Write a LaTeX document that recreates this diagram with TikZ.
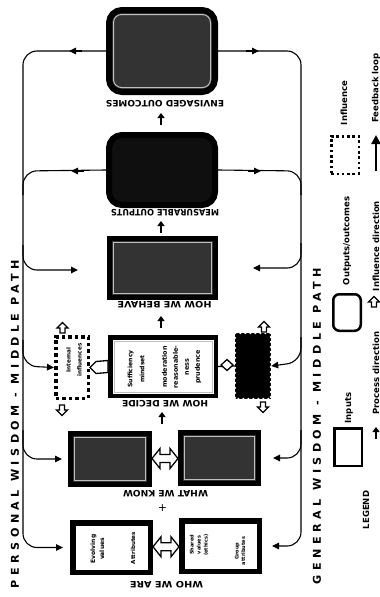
\documentclass[tikz,border=0pt]{standalone}
\usepackage{fontspec}
\setmainfont{DejaVu Sans}
\newfontfamily\spacedfont[LetterSpace=40]{DejaVu Sans}
\usepackage{graphicx}
\usetikzlibrary{arrows.meta,calc}
\tikzset{
  capl/.style={rotate=180, inner sep=0pt, font=\bfseries},
  btext/.style={rotate=90, inner sep=0pt, align=center},
  legtext/.style={rotate=90, inner sep=0pt, font=\bfseries\fontsize{8.5}{10}\selectfont},
  darkbox/.style={draw=black, line width=5pt, fill=black!80, inner sep=0pt},
  whitebox/.style={draw=black, line width=5pt, fill=white, inner sep=0pt},
  frameline/.style={gray!50, line width=1pt},
  loopline/.style={line width=1.1pt, rounded corners=14pt},
  endarrow/.style={-{Triangle[length=7pt,width=6.5pt]}},
  midarrow/.style={line width=1.1pt, -{Triangle[length=7pt,width=6.5pt]}},
  procarrow/.style={line width=2pt, -{Triangle[length=5pt,width=7pt]}},
  openarrow/.style={draw=black, fill=white, line width=1.3pt, line join=miter},
  openup/.pic={\path[openarrow] (-2.5,5) -- (-2.5,0) -- (-5.5,0) -- (0,-5.5) -- (5.5,0) -- (2.5,0) -- (2.5,5) -- cycle;},
  dblarrow/.pic={\path[openarrow] (-13,0) -- (-5,-10) -- (-5,-4) -- (5,-4) -- (5,-10) -- (13,0) -- (5,10) -- (5,4) -- (-5,4) -- (-5,10) -- cycle;},
}
\begin{document}
\begin{tikzpicture}[x=1pt,y=-1pt]
\fill[white] (0,0) rectangle (380,597);
\useasboundingbox (0,0) rectangle (380,597);

% ---- main boxes ----
\node[draw=black, line width=6pt, rounded corners=13pt, fill=black!80, minimum width=106pt, minimum height=82pt] (env) at (162,51) {};
\draw[frameline, rounded corners=8pt] ($(env.north west)+(7.5,7.5)$) rectangle ($(env.south east)+(-7.5,-7.5)$);
\node[draw=black, line width=6pt, rounded corners=13pt, fill=black!94, minimum width=106pt, minimum height=70pt] (meas) at (162,170) {};
\node[darkbox, minimum width=106pt, minimum height=59pt] (beh) at (162.5,268) {};
\draw[frameline] ($(beh.north west)+(6.5,6.5)$) rectangle ($(beh.south east)+(-6.5,-6.5)$);
\node[whitebox, line width=4.5pt, minimum width=105.5pt, minimum height=58.5pt] (dec) at (163,366.5) {};
\draw[gray!50, line width=0.6pt] ($(dec.north west)+(6,6)$) rectangle ($(dec.south east)+(-6,-6)$);
\node[darkbox, minimum width=79pt, minimum height=51pt] (knowL) at (110,459) {};
\draw[frameline] ($(knowL.north west)+(6.5,6.5)$) rectangle ($(knowL.south east)+(-6.5,-6.5)$);
\node[darkbox, minimum width=78pt, minimum height=51pt] (knowR) at (219.5,458) {};
\draw[frameline] ($(knowR.north west)+(6.5,6.5)$) rectangle ($(knowR.south east)+(-6.5,-6.5)$);
\node[whitebox, line width=5.5pt, minimum width=77.5pt, minimum height=49.5pt] (areL) at (111.5,547.5) {};
\node[whitebox, line width=5.5pt, minimum width=77.5pt, minimum height=50.5pt] (areR) at (220.5,546) {};

% influence boxes
\node[draw=black, fill=white, line width=3.5pt, dash pattern=on 3.5pt off 3pt, minimum width=32.5pt, minimum height=61.5pt, inner sep=0pt] (intinf) at (72,367.5) {};
\node[fill=black, minimum width=36pt, minimum height=66pt, inner sep=0pt] (extinf) at (253,366) {};
\draw[white, line width=3pt, line cap=round, dash pattern=on 0pt off 5pt] (extinf.north west) rectangle (extinf.south east);

% ---- texts in boxes ----
\node[btext, font=\bfseries\fontsize{6.1}{12}\selectfont] (d1) at (136,369) {Sufficiency\\mindset};
\node[btext, font=\bfseries\fontsize{6.4}{11}\selectfont] (d2) at (181.5,367) {moderation\\reasonable-\\ness\\prudence};
\node[btext, font=\bfseries\fontsize{6}{9}\selectfont] (a1) at (97.5,549) {Evolving\\values};
\node[btext, font=\bfseries\fontsize{5.6}{9}\selectfont] (a2) at (133,548) {Attributes};
\node[btext, font=\bfseries\fontsize{5}{7}\selectfont] (a3) at (199,545) {Shared\\values\\(ethics)};
\node[btext, font=\bfseries\fontsize{5}{6.5}\selectfont] (a4) at (240,551) {Group\\attributes};
\node[btext, font=\bfseries\fontsize{5.7}{11}\selectfont] (i1) at (74,360) {Internal\\influences};

% ---- labels ----
\node[capl] (lEnv) at (165,104) {\resizebox{118pt}{6.5pt}{ENVISAGED OUTCOMES}};
\node[capl] (lMeas) at (165,213) {\resizebox{108pt}{6.5pt}{MEASURABLE OUTPUTS}};
\node[capl] (lBeh) at (164.5,305) {\resizebox{94pt}{6.5pt}{HOW WE BEHAVE}};
\node[capl] (lDec) at (165,403.5) {\resizebox{86pt}{6.5pt}{HOW WE DECIDE}};
\node[capl] (lKnow) at (165.5,493.5) {\resizebox{85pt}{6.5pt}{WHAT WE KNOW}};
\node[capl] (lAre) at (166.5,585) {\resizebox{73pt}{6.5pt}{WHO WE ARE}};
\node[inner sep=0pt, font=\fontsize{11}{11}\selectfont] (plus) at (162.5,508) {+};

% process arrows
\coordinate (p1s) at (161,125); \coordinate (p1e) at (161,113);
\coordinate (p2s) at (161,233); \coordinate (p2e) at (161,221);
\coordinate (p3s) at (161,328); \coordinate (p3e) at (161,316);
\coordinate (p4s) at (162,424); \coordinate (p4e) at (162,412);
\draw[procarrow] (p1s) -- (p1e);
\draw[procarrow] (p2s) -- (p2e);
\draw[procarrow] (p3s) -- (p3e);
\draw[procarrow] (p4s) -- (p4e);

% double open arrows between input boxes
\pic at ($(knowL.east)!0.5!(knowR.west)$) {dblarrow};
\pic at ($(areL.east)!0.5!(areR.west)$) {dblarrow};

% influence connectors
\path[openarrow] (intinf.east) -- ++(6,-6) -- ($(dec.west)+(0,-6)$) -- ($(dec.west)+(0,6)$) -- ($(intinf.east)+(6,6)$) -- cycle;
\draw[line width=1.3pt] (dec.east) -- (extinf.west);
\path[openarrow] (221,365) -- (227,359.5) -- (233,365) -- (227,370.5) -- cycle;
\pic at (62.5,328) {openup};
\pic[rotate=180] at (62,410) {openup};
\pic at (264,327) {openup};
\pic[rotate=180] at (263,407) {openup};

% ---- left loop (personal wisdom) ----
\draw[loopline, endarrow] (env.west) -- (23,51) -- (23,547.5) -- ([xshift=-7pt]areL.west);
\draw[midarrow] (82,51) -- (69,51);
\draw[loopline] (meas.west) -- (23,171) -- (23,195);
\draw[midarrow] (84,171) -- (71,171);
\draw[loopline, endarrow] (23,245) -- (23,270) -- (78,270);
\draw[loopline, endarrow] (23,340) -- (23,366) -- (intinf.west);
\draw[loopline, endarrow] (23,430) -- (23,459) -- ([xshift=-6pt]knowL.west);

% ---- right loop (general wisdom) ----
\draw[loopline, endarrow] (env.east) -- (301,51) -- (301,546) -- ([xshift=10pt]areR.east);
\draw[midarrow] (246,51) -- (259,51);
\draw[loopline] (meas.east) -- (301,171) -- (301,195);
\draw[midarrow] (248,171) -- (261,171);
\draw[loopline, endarrow] (301,243) -- (301,268) -- (253,268);
\draw[loopline, endarrow] (301,337) -- (301,362) -- (extinf.east);
\draw[loopline, endarrow] (301,430) -- (301,458) -- ([xshift=12pt]knowR.east);

% side texts
\node[rotate=90, inner sep=0pt] (pw) at (15,424) {\resizebox{328pt}{8pt}{\spacedfont\bfseries PERSONAL WISDOM - MIDDLE PATH}};
\node[rotate=90, inner sep=0pt] (gw) at (317,426) {\resizebox{316pt}{8pt}{\spacedfont\bfseries GENERAL WISDOM - MIDDLE PATH}};

% ---- legend ----
\node[draw=black, line width=2.5pt, minimum width=27.5pt, minimum height=37.5pt, inner sep=0pt] (leginp) at (348,447) {};
\node[draw=black, line width=2.5pt, rounded corners=6pt, minimum width=27.5pt, minimum height=36.5pt, inner sep=0pt] (legout) at (347,312.5) {};
\node[draw=black, line width=2.5pt, dash pattern=on 2.5pt off 2.8pt, minimum width=27.5pt, minimum height=37.5pt, inner sep=0pt] (leginf) at (345,155) {};
\node[legtext] (tInp) at (349,408) {Inputs};
\node[legtext] (tOut) at (347,241) {Outputs/outcomes};
\node[legtext] (tInf) at (344,103) {Influence};
\node[legtext] (tLeg) at (366,510) {LEGEND};
\node[legtext] (tPro) at (376,373) {Process direction};
\node[legtext] (tIdir) at (376,246) {Influence direction};
\node[legtext] (tFb) at (376,88) {Feedback loop};
\coordinate (lp1) at (376,439); \coordinate (lp2) at (376,427);
\draw[procarrow] (lp1) -- (lp2);
\pic at (374,302) {openup};
\coordinate (lf1) at (376,171); \coordinate (lf2) at (376,135);
\draw[line width=2.5pt, -{Triangle[length=9pt,width=9pt]}] (lf1) -- (lf2);
\end{tikzpicture}
\end{document}
